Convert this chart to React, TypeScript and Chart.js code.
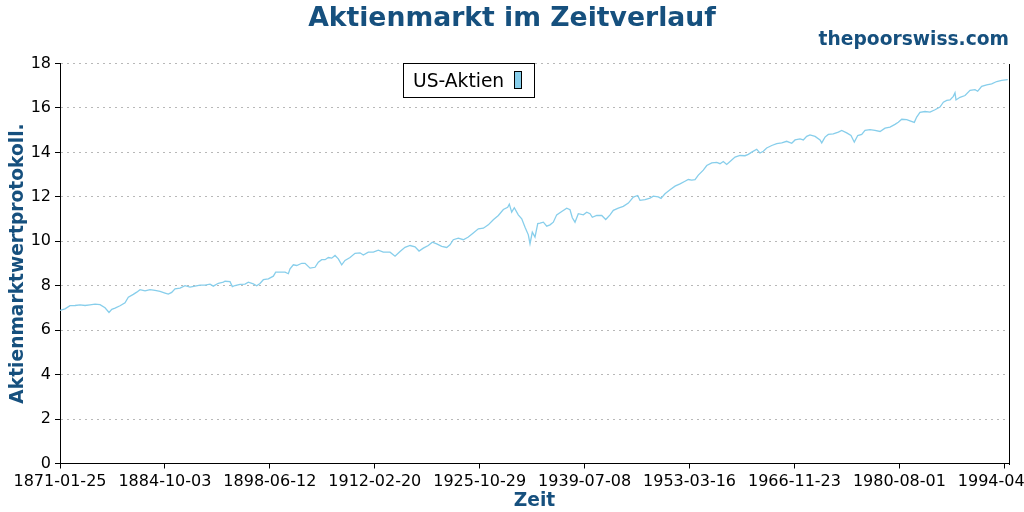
import React, { useEffect, useRef } from "react";
import { Chart, registerables } from "chart.js";

Chart.register(...registerables);

const TITLE = "Aktienmarkt im Zeitverlauf";
const SOURCE = "thepoorswiss.com";
const SERIES_LABEL = "US-Aktien";
const X_TITLE = "Zeit";
const Y_TITLE = "Aktienmarktwertprotokoll.";

// x axis: days since 1871-01-25, one tick every 5000 days
const START_YEAR_FRAC = 1871.0658;
const TICK_STEP_DAYS = 5000;
const X_END_DAYS = 45224;
const X_TICK_LABELS = [
  "1871-01-25", "1884-10-03", "1898-06-12", "1912-02-20", "1925-10-29",
  "1939-07-08", "1953-03-16", "1966-11-23", "1980-08-01", "1994-04-10",
];
const Y_MIN = 0;
const Y_MAX = 18;
const Y_STEP = 2;

// decimal years of the sampled points
const YEARS = [
  1871.07, 1871.72, 1872.37, 1873.03, 1873.68, 1874.33, 1874.98, 1875.64, 1876.29, 1876.94,
  1877.46, 1877.82, 1878.25, 1878.90, 1879.55, 1879.98, 1880.63, 1881.08, 1881.51, 1882.16,
  1882.81, 1883.47, 1884.12, 1884.77, 1885.20, 1885.64, 1886.07, 1886.73, 1887.38, 1888.03,
  1888.68, 1889.34, 1889.99, 1890.64, 1891.07, 1891.72, 1892.38, 1892.60, 1893.25, 1893.55,
  1893.90, 1894.56, 1895.21, 1895.64, 1896.29, 1896.73, 1897.16, 1897.60, 1898.25, 1898.90,
  1899.21, 1899.77, 1900.43, 1900.86, 1901.08, 1901.51, 1901.95, 1902.61, 1903.04, 1903.69,
  1904.34, 1904.77, 1905.21, 1905.65, 1906.08, 1906.52, 1906.95, 1907.38, 1907.82, 1908.25,
  1908.91, 1909.56, 1910.21, 1910.64, 1911.29, 1911.95, 1912.60, 1913.25, 1914.13, 1914.78,
  1915.43, 1916.08, 1916.74, 1917.39, 1917.91, 1918.47, 1919.12, 1919.64, 1920.22, 1920.87,
  1921.52, 1921.95, 1922.38, 1923.04, 1923.69, 1924.34, 1924.99, 1925.65, 1926.30, 1926.95,
  1927.60, 1928.26, 1928.91, 1929.48, 1929.69, 1930.00, 1930.34, 1930.86, 1931.31, 1931.74,
  1932.17, 1932.39, 1932.69, 1933.04, 1933.40, 1933.70, 1934.13, 1934.57, 1935.00, 1935.43,
  1935.87, 1936.53, 1937.18, 1937.61, 1937.91, 1938.26, 1938.69, 1939.35, 1939.79, 1940.22,
  1940.52, 1941.09, 1941.75, 1942.27, 1942.83, 1943.26, 1943.91, 1944.56, 1945.22, 1945.87,
  1946.44, 1946.74, 1947.40, 1948.05, 1948.48, 1949.13, 1949.48, 1950.00, 1950.66, 1951.31,
  1951.96, 1952.61, 1953.04, 1953.49, 1953.92, 1954.35, 1955.00, 1955.45, 1956.10, 1956.75,
  1957.18, 1957.61, 1958.05, 1958.49, 1959.14, 1959.79, 1960.44, 1960.87, 1961.32, 1961.97,
  1962.40, 1962.83, 1963.27, 1963.93, 1964.58, 1965.23, 1965.88, 1966.54, 1966.97, 1967.62,
  1968.05, 1968.49, 1968.92, 1969.58, 1970.23, 1970.45, 1970.88, 1971.31, 1971.96, 1972.62,
  1973.06, 1973.71, 1974.27, 1974.70, 1975.15, 1975.67, 1976.10, 1976.75, 1977.40, 1978.06,
  1978.71, 1979.36, 1980.01, 1980.44, 1980.89, 1981.54, 1981.97, 1982.53, 1982.84, 1983.27,
  1983.93, 1984.58, 1985.23, 1985.88, 1986.32, 1986.76, 1987.19, 1987.62, 1987.84, 1987.97,
  1988.49, 1989.15, 1989.80, 1990.45, 1990.80, 1991.32, 1991.98, 1992.63, 1993.28, 1993.93,
  1994.72,
];

// log market value (US stocks)
const US_STOCKS = [
  6.89, 6.96, 7.10, 7.11, 7.14, 7.11, 7.14, 7.17, 7.15, 7.01,
  6.80, 6.94, 6.99, 7.10, 7.23, 7.48, 7.61, 7.71, 7.82, 7.77,
  7.82, 7.79, 7.75, 7.67, 7.62, 7.70, 7.86, 7.89, 8.00, 7.94,
  7.98, 8.03, 8.03, 8.07, 7.98, 8.11, 8.16, 8.20, 8.18, 7.96,
  8.01, 8.06, 8.07, 8.16, 8.08, 8.00, 8.10, 8.27, 8.31, 8.43,
  8.61, 8.61, 8.61, 8.54, 8.76, 8.94, 8.91, 9.01, 9.01, 8.79,
  8.83, 9.06, 9.17, 9.17, 9.27, 9.24, 9.36, 9.21, 8.94, 9.14,
  9.27, 9.46, 9.48, 9.38, 9.51, 9.51, 9.60, 9.51, 9.51, 9.33,
  9.54, 9.73, 9.81, 9.75, 9.56, 9.69, 9.81, 9.96, 9.88, 9.77,
  9.72, 9.84, 10.07, 10.14, 10.07, 10.19, 10.37, 10.56, 10.59, 10.74,
  10.97, 11.16, 11.43, 11.53, 11.67, 11.31, 11.51, 11.19, 11.01, 10.63,
  10.29, 9.89, 10.41, 10.19, 10.80, 10.82, 10.86, 10.68, 10.74, 10.86,
  11.19, 11.34, 11.49, 11.42, 11.06, 10.86, 11.24, 11.19, 11.31, 11.24,
  11.08, 11.16, 11.16, 10.98, 11.19, 11.39, 11.49, 11.57, 11.72, 11.99,
  12.06, 11.84, 11.87, 11.94, 12.03, 12.00, 11.93, 12.14, 12.32, 12.48,
  12.58, 12.70, 12.78, 12.75, 12.77, 12.98, 13.20, 13.41, 13.53, 13.55,
  13.49, 13.59, 13.46, 13.59, 13.79, 13.86, 13.85, 13.91, 14.01, 14.14,
  13.97, 14.05, 14.20, 14.31, 14.39, 14.43, 14.50, 14.41, 14.56, 14.61,
  14.56, 14.72, 14.79, 14.72, 14.56, 14.43, 14.69, 14.81, 14.83, 14.91,
  14.99, 14.88, 14.76, 14.46, 14.76, 14.81, 14.99, 15.02, 14.99, 14.94,
  15.09, 15.14, 15.26, 15.36, 15.49, 15.47, 15.42, 15.35, 15.59, 15.80,
  15.84, 15.81, 15.92, 16.04, 16.26, 16.34, 16.36, 16.52, 16.68, 16.36,
  16.48, 16.56, 16.79, 16.82, 16.75, 16.97, 17.04, 17.08, 17.19, 17.24,
  17.27,
];

const BLUE = "#16507e";
const LINE_COLOR = "#87CEEB";
const FONT = "'DejaVu Sans', sans-serif";

const decorPlugin = {
  id: "decor",
  afterDraw(chart: any) {
    const { ctx, chartArea } = chart;
    ctx.save();
    // right spine
    ctx.strokeStyle = "#000";
    ctx.lineWidth = 1;
    const rx = Math.round(chartArea.right) + 0.5;
    ctx.beginPath();
    ctx.moveTo(rx, Math.round(chartArea.top));
    ctx.lineTo(rx, Math.round(chartArea.bottom) + 1);
    ctx.stroke();

    // title + source
    ctx.fillStyle = BLUE;
    ctx.textBaseline = "alphabetic";
    ctx.font = `bold 26.67px ${FONT}`;
    ctx.textAlign = "center";
    ctx.fillText(TITLE, chart.width / 2, 25.5);
    ctx.font = `bold 18.67px ${FONT}`;
    ctx.textAlign = "right";
    ctx.fillText(SOURCE, chartArea.right, 45);

    // legend box (text first, patch after)
    const lx = 403.5, ly = 63.5, lw = 131, lh = 34;
    ctx.fillStyle = "#ffffff";
    ctx.fillRect(lx, ly, lw, lh);
    ctx.strokeStyle = "#000";
    ctx.strokeRect(lx, ly, lw, lh);
    ctx.fillStyle = "#000";
    ctx.font = `18.67px ${FONT}`;
    ctx.textAlign = "left";
    const label = chart.data.datasets[0].label;
    ctx.fillText(label, 413, 87);
    ctx.fillStyle = LINE_COLOR;
    ctx.fillRect(514.5, 71.5, 7, 17);
    ctx.strokeRect(514.5, 71.5, 7, 17);
    ctx.restore();
  },
};

export default function App() {
  const canvasRef = useRef<HTMLCanvasElement | null>(null);

  useEffect(() => {
    const canvas = canvasRef.current;
    if (!canvas) return;
    Chart.defaults.font.family = FONT;

    const points = YEARS.map((yr, i) => ({
      x: (yr - START_YEAR_FRAC) * 365.2425,
      y: US_STOCKS[i],
    }));

    const chart = new Chart(canvas, {
      type: "line",
      data: {
        datasets: [
          {
            label: SERIES_LABEL,
            data: points,
            borderColor: LINE_COLOR,
            backgroundColor: LINE_COLOR,
            borderWidth: 1.3,
            pointRadius: 0,
            tension: 0,
            fill: false,
          },
        ],
      },
      options: {
        animation: false,
        responsive: true,
        maintainAspectRatio: false,
        layout: { padding: { top: 63.5, right: 15, bottom: 0, left: 0 } },
        plugins: {
          legend: { display: false },
          title: { display: false },
          tooltip: { enabled: false },
        },
        scales: {
          x: {
            type: "linear",
            min: 0,
            max: X_END_DAYS,
            afterBuildTicks: (scale: any) => {
              scale.ticks = X_TICK_LABELS.map((_, k) => ({ value: k * TICK_STEP_DAYS }));
            },
            afterFit: (scale: any) => {
              scale.height = 48.5;
              scale.paddingLeft = 0;
              scale.paddingRight = 0;
              scale.paddingTop = 0;
              scale.paddingBottom = 0;
            },
            ticks: {
              autoSkip: false,
              maxRotation: 0,
              minRotation: 0,
              padding: 4,
              color: "#000",
              font: { size: 16, family: FONT },
              callback: (_v: any, i: number) => X_TICK_LABELS[i],
            },
            grid: {
              display: true,
              drawOnChartArea: false,
              drawTicks: true,
              tickLength: 5,
              tickColor: "#000",
              color: "#000",
            },
            border: { display: true, color: "#000", width: 1 },
            title: {
              display: true,
              text: X_TITLE,
              color: BLUE,
              font: { size: 18.67, weight: "bold", family: FONT },
              padding: { top: 0, bottom: 0 },
            },
          },
          y: {
            type: "linear",
            min: Y_MIN,
            max: Y_MAX,
            afterFit: (scale: any) => {
              scale.width = 60;
              scale.paddingTop = 0;
              scale.paddingBottom = 0;
              scale.paddingLeft = 0;
              scale.paddingRight = 0;
            },
            ticks: {
              stepSize: Y_STEP,
              padding: 4,
              color: "#000",
              font: { size: 16, family: FONT },
            },
            grid: {
              display: true,
              drawOnChartArea: true,
              drawTicks: true,
              tickLength: 5,
              tickColor: "#000",
              tickBorderDash: [],
              color: "#b8b8b8",
            },
            border: { display: true, color: "#000", width: 1, dash: [2, 4] },
            title: {
              display: true,
              text: Y_TITLE,
              color: BLUE,
              font: { size: 18.67, weight: "bold", family: FONT },
              padding: { top: 7, bottom: 0 },
            },
          },
        },
      },
      plugins: [decorPlugin],
    } as any);

    return () => chart.destroy();
  }, []);

  return (
    <div style={{ position: "fixed", left: 0, top: 0, width: 1024, height: 512, background: "#fff" }}>
      <canvas ref={canvasRef} />
    </div>
  );
}
